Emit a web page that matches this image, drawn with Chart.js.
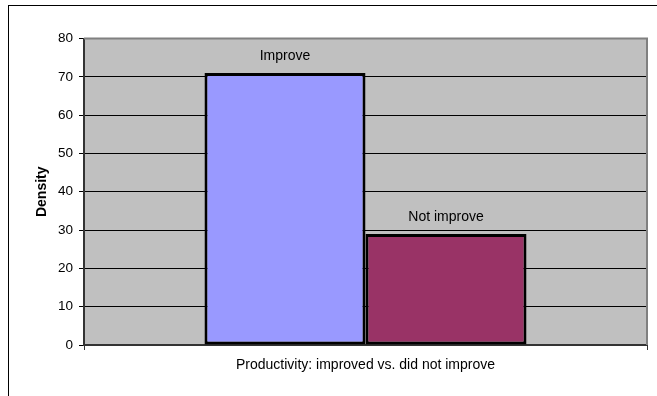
<!DOCTYPE html>
<html>
<head>
<meta charset="utf-8">
<script src="https://cdn.jsdelivr.net/npm/chart.js@4"></script>
<style>
  html, body { margin: 0; padding: 0; background: #fff; }
  canvas { display: block; }
</style>
</head>
<body>
<canvas id="chart" width="657" height="396"></canvas>
<script>
// Chart data
const categories = [""];
const seriesNames = ["Improve", "Not improve"];
const seriesValues = [[71], [29]];
const seriesColors = ["#9999FF", "#993366"];
const yMin = 0;
const yMax = 80;
const yStep = 10;

Chart.defaults.font.family = "'Liberation Sans', Arial, sans-serif";
Chart.defaults.color = "#000";

// Gray plot area and the outer chart frame
const plotBackground = {
  id: "plotBackground",
  beforeDraw(chart) {
    const { ctx, chartArea: a } = chart;
    ctx.save();
    ctx.strokeStyle = "#000";
    ctx.lineWidth = 1;
    ctx.strokeRect(8.5, 5.5, 800, 600);
    ctx.fillStyle = "#C0C0C0";
    ctx.fillRect(a.left, a.top, a.right - a.left, a.bottom - a.top);
    ctx.restore();
  },
  afterDraw(chart) {
    const { ctx, chartArea: a } = chart;
    ctx.save();
    ctx.strokeStyle = "#808080";
    ctx.lineWidth = 2;
    ctx.beginPath();
    ctx.moveTo(a.left, a.top);
    ctx.lineTo(a.right, a.top);
    ctx.lineTo(a.right, a.bottom);
    ctx.stroke();
    ctx.restore();
  }
};

// Series name written above each bar
const barLabels = {
  id: "barLabels",
  afterDatasetsDraw(chart) {
    const { ctx } = chart;
    ctx.save();
    ctx.font = "14px 'Liberation Sans', Arial, sans-serif";
    ctx.fillStyle = "#000";
    ctx.textAlign = "center";
    ctx.textBaseline = "alphabetic";
    chart.data.datasets.forEach((ds, i) => {
      const meta = chart.getDatasetMeta(i);
      meta.data.forEach((bar) => {
        ctx.fillText(ds.label, bar.x, bar.y - 13);
      });
    });
    ctx.restore();
  }
};

new Chart(document.getElementById("chart"), {
  type: "bar",
  data: {
    labels: categories,
    datasets: seriesNames.map((name, i) => ({
      label: name,
      data: seriesValues[i],
      backgroundColor: seriesColors[i],
      borderColor: "#000",
      borderWidth: 3,
      borderSkipped: false,
      categoryPercentage: 0.572,
      barPercentage: 1
    }))
  },
  options: {
    responsive: false,
    animation: false,
    layout: { padding: { top: 38.5, right: 10, bottom: 0, left: 0 } },
    plugins: {
      legend: { display: false },
      tooltip: { enabled: false }
    },
    scales: {
      x: {
        offset: true,
        grid: { offset: true, drawOnChartArea: false, color: "#333", tickLength: 5 },
        border: { color: "#333", width: 2 },
        ticks: { display: false },
        title: {
          display: true,
          text: "Productivity: improved vs. did not improve",
          font: { size: 14 },
          padding: { top: 0, bottom: 22.6 }
        },
        afterFit: (s) => { s.height = 51; }
      },
      y: {
        min: yMin,
        max: yMax,
        ticks: { stepSize: yStep, font: { size: 13.5 }, padding: 6 },
        grid: { color: "#000", lineWidth: 1, tickLength: 5 },
        border: { color: "#333", width: 2 },
        title: {
          display: true,
          text: "Density",
          font: { size: 14, weight: "bold" },
          padding: { top: 33.6, bottom: 0 }
        },
        afterFit: (s) => { s.width = 84; }
      }
    }
  },
  plugins: [plotBackground, barLabels]
});
</script>
</body>
</html>
